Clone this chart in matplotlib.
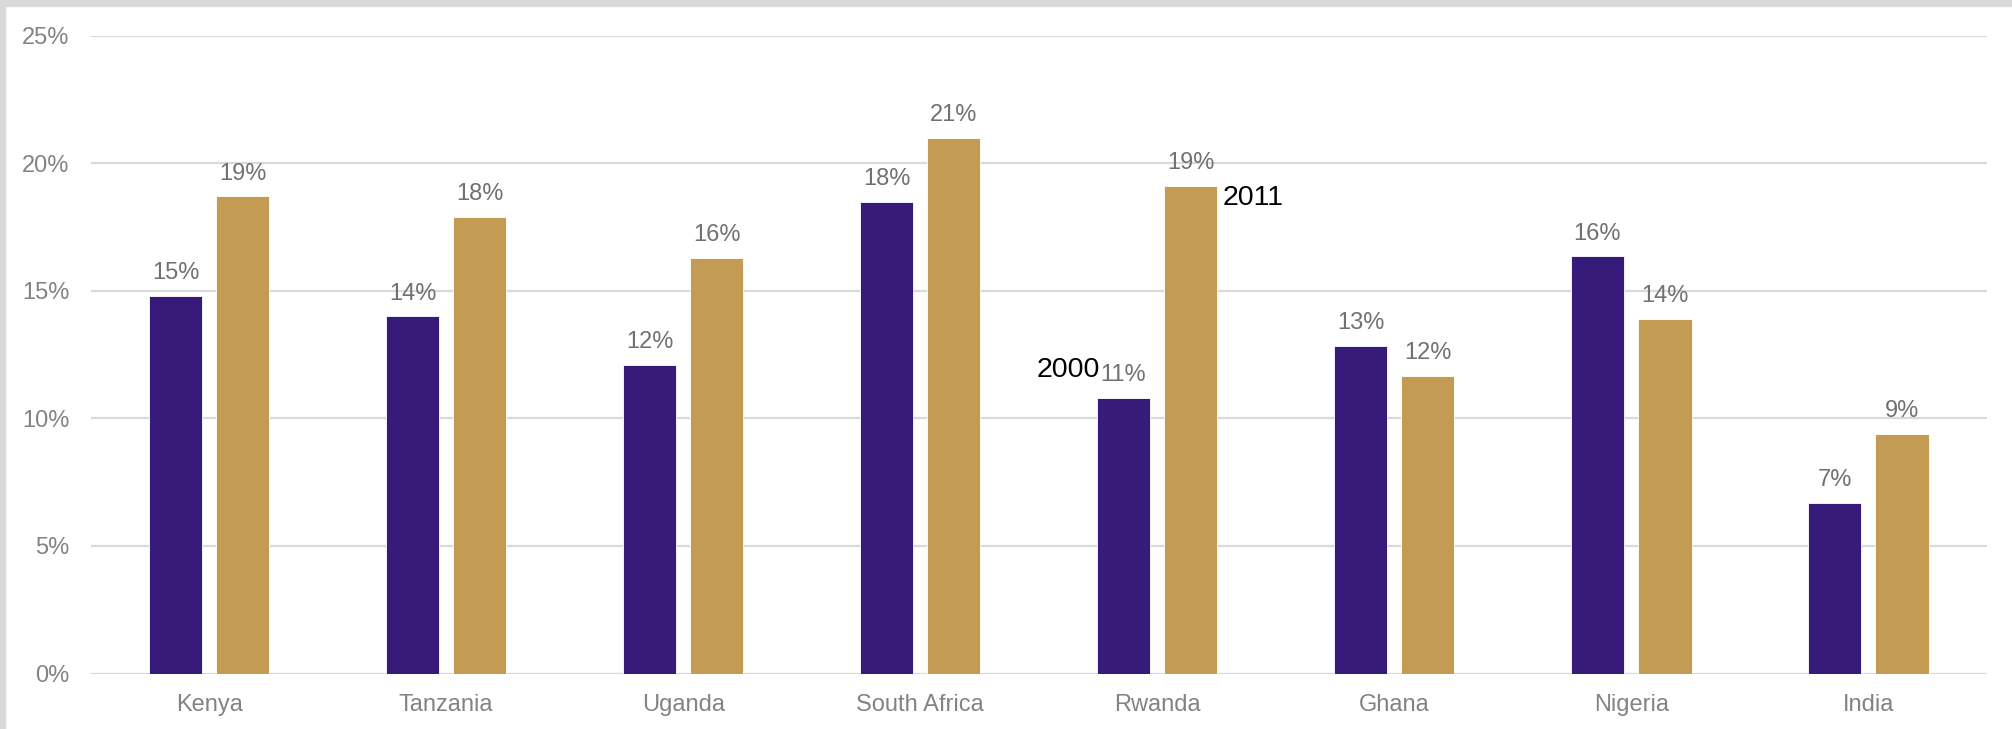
import matplotlib
matplotlib.use("Agg")
import matplotlib.pyplot as plt
from matplotlib.patches import Rectangle
import numpy as np

# Share of value (%) by country, 2000 vs 2011
countries = ["Kenya", "Tanzania", "Uganda", "South Africa", "Rwanda", "Ghana", "Nigeria", "India"]
share_2000 = [14.8, 14.0, 12.1, 18.5, 10.8, 12.85, 16.35, 6.7]
share_2011 = [18.7, 17.9, 16.3, 21.0, 19.1, 11.65, 13.9, 9.4]
series_names = ["2000", "2011"]
y_ticks = [0, 5, 10, 15, 20, 25]

PURPLE = "#361b7a"
GOLD = "#c49b52"
GRID = "#dadada"
LABEL_GREY = "#717171"
AXIS_GREY = "#838383"

plt.rcParams["font.family"] = ["Liberation Sans", "DejaVu Sans"]

fig = plt.figure(figsize=(20.12, 7.29), dpi=100)
ax = fig.add_axes([0.04508, 0.07613, 0.98743 - 0.04508, 0.95103 - 0.07613])

x = np.arange(len(countries))
width = 0.224
offset = 0.1424

bars_a = ax.bar(x - offset, share_2000, width, color=PURPLE, edgecolor="white",
                linewidth=0.6, zorder=3)
bars_b = ax.bar(x + offset, share_2011, width, color=GOLD, edgecolor="white",
                linewidth=0.6, zorder=3)

for bars in (bars_a, bars_b):
    ax.bar_label(bars, labels=[f"{v:.0f}%" for v in bars.datavalues],
                 padding=8.5, fontsize=17, color=LABEL_GREY)

ax.set_xlim(-0.5, len(countries) - 0.5)
ax.set_ylim(0, 25)
ax.set_yticks(y_ticks)
ax.set_yticklabels([f"{t}%" for t in y_ticks])
ax.set_xticks(x)
ax.set_xticklabels(countries)
ax.tick_params(axis="both", length=0, labelsize=17, labelcolor=AXIS_GREY)
ax.tick_params(axis="y", pad=15.5)
ax.tick_params(axis="x", pad=14.5)

ax.yaxis.grid(True, color=GRID, linewidth=1.6, zorder=0)
ax.set_axisbelow(True)
for side in ("top", "right", "left", "bottom"):
    ax.spines[side].set_visible(False)

# Series names written next to the Rwanda pair
i = countries.index("Rwanda")
ax.annotate(series_names[0], xy=(x[i] - offset - width / 2, share_2000[i]),
            xytext=(3, 28), textcoords="offset pixels", ha="right", va="center",
            fontsize=20.5, color="black")
ax.annotate(series_names[1], xy=(x[i] + offset + width / 2, share_2011[i]),
            xytext=(5, -12), textcoords="offset pixels", ha="left", va="center",
            fontsize=20.5, color="black")

# Frame bands along the top and left edges
fig.patches.append(Rectangle((0, 1 - 6 / 729), 1, 6 / 729, transform=fig.transFigure,
                             color="#d9d9d9", zorder=0))
fig.patches.append(Rectangle((0, 0), 5 / 2012, 1, transform=fig.transFigure,
                             color="#d9d9d9", zorder=0))

fig.savefig("out.png", dpi=100)
